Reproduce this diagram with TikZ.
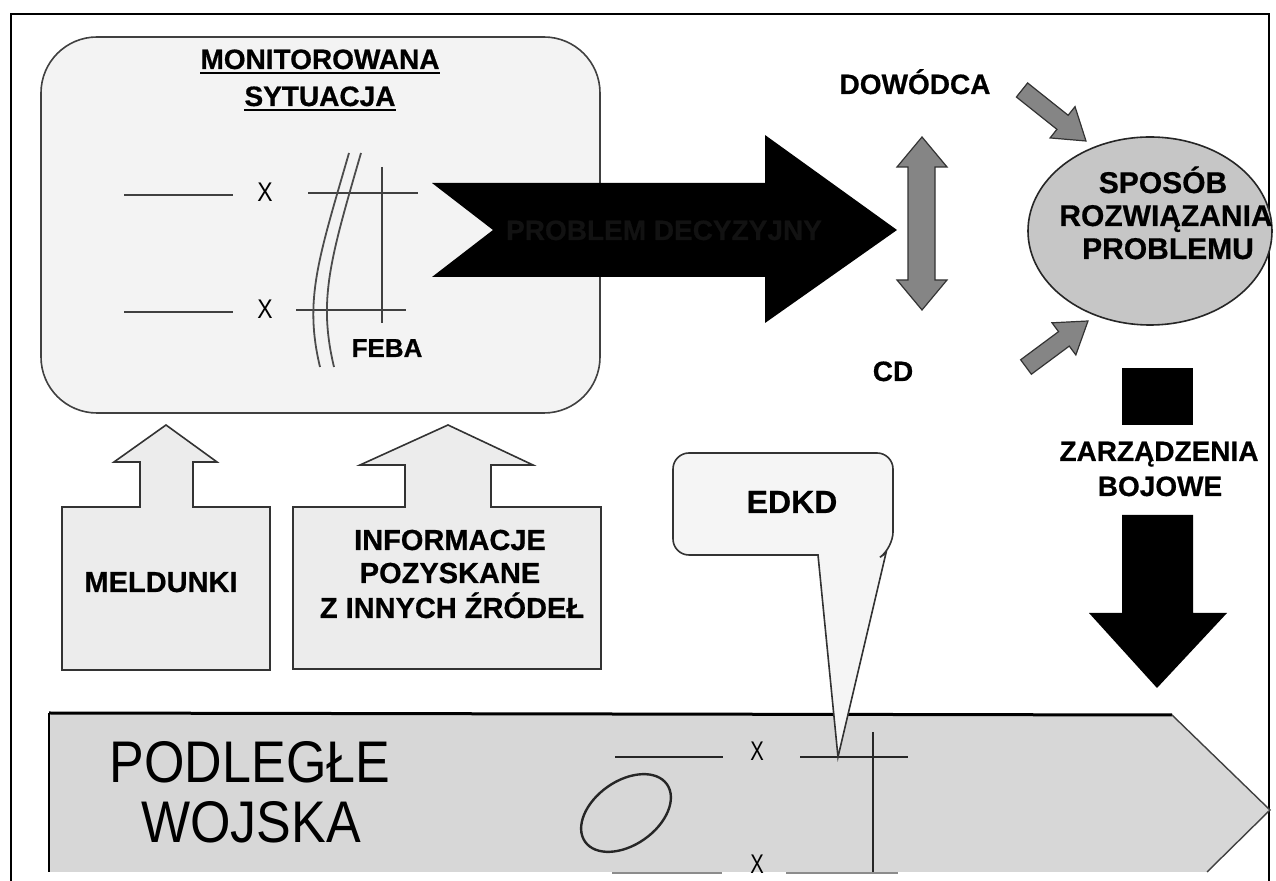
\documentclass[tikz,border=0pt]{standalone}
\usepackage{fontspec}
\usepackage{graphicx}
\setmainfont{Liberation Sans}[BoldFeatures={FakeBold=0.6}]
\usetikzlibrary{calc}

\definecolor{boxfill}{HTML}{F3F3F3}
\definecolor{srcfill}{HTML}{ECECEC}
\definecolor{bandfill}{HTML}{D7D7D7}
\definecolor{ellfill}{HTML}{C6C6C6}
\definecolor{arrgray}{HTML}{858585}
\definecolor{callfill}{HTML}{F5F5F5}

% block arrow from tail #1 to tip #2
\newcommand{\gblock}[2]{%
  \coordinate (gh) at ($(#2)!15pt!(#1)$);
  \filldraw[graya] ($(#1)!4.5pt!90:(#2)$) -- ($(gh)!4.5pt!90:(#2)$) -- ($(gh)!10pt!90:(#2)$)
    -- (#2) -- ($(gh)!10pt!-90:(#2)$) -- ($(gh)!4.5pt!-90:(#2)$) -- ($(#1)!4.5pt!-90:(#2)$) -- cycle;}

\tikzset{
  bt/.style={font=\bfseries\fontsize{14}{16}\selectfont, inner sep=0pt, anchor=base},
  bts/.style={font=\bfseries\fontsize{14.5}{16}\selectfont, inner sep=0pt, anchor=base},
  ellt/.style={font=\bfseries\fontsize{15}{17}\selectfont, inner sep=0pt, anchor=base},
  bigt/.style={font=\fontsize{26}{30}\selectfont, inner sep=0pt, anchor=base},
  xm/.style={font=\fontsize{13.5}{15}\selectfont, inner sep=0pt, anchor=base},
  lineg/.style={draw=black!75, line width=0.7pt},
  lineb/.style={draw=black!85, line width=1pt},
  graya/.style={fill=arrgray, draw=black!80, line width=0.6pt},
  srcbox/.style={fill=srcfill, draw=black!80, line width=0.8pt},
}

\begin{document}
\begin{tikzpicture}[x=0.5pt,y=-0.5pt]
\useasboundingbox (0,0) rectangle (1276,881);
\fill[white] (0,0) rectangle (1276,881);

% outer frame
\draw[line width=0.9pt] (11,895) -- (11,14) -- (1269,14) -- (1269,895);

% monitored situation panel
\draw[draw=black!75, line width=0.8pt, fill=boxfill, rounded corners=28pt] (41,37) rectangle (600,413);
\node[bt] (mon1) at (320,69) {MONITOROWANA};
\node[bt] (mon2) at (320,106) {SYTUACJA};
\draw[line width=1.3pt] ([yshift=-2pt]mon1.base west) -- ([yshift=-2pt]mon1.base east);
\draw[line width=1.3pt] ([yshift=-2pt]mon2.base west) -- ([yshift=-2pt]mon2.base east);

\draw[lineg] (124,195) -- (233,195);
\node[xm] (x1) at (265,202) {\scalebox{0.85}[1]{X}};
\draw[lineg] (308,193) -- (418,193);
\draw[lineg] (382,167) -- (382,323);
\draw[lineg] (124,312) -- (233,312);
\node[xm] (x2) at (265,319) {\scalebox{0.85}[1]{X}};
\draw[lineg] (296,310) -- (406,310);
\draw[draw=black!70, line width=0.9pt] (349,153) .. controls (318,260) and (304,300) .. (320,367);
\draw[draw=black!70, line width=0.9pt] (361,153) .. controls (330,260) and (318,300) .. (334,367);
\node[bt, font=\bfseries\fontsize{13}{15}\selectfont] (feba) at (387,357) {FEBA};

% decision problem arrow
\fill[black] (432,183) -- (765,183) -- (765,135) -- (897,230) -- (765,323)
  -- (765,277) -- (432,277) -- (493,230) -- cycle;
\node[bt, text=black!93] (prob) at (664,240) {PROBLEM DECYZYJNY};

% commander / staff
\node[bt] (dow) at (915,94) {DOWÓDCA};
\node[bt] (cd) at (893,381) {CD};
\filldraw[graya] (922,137) -- (947,167) -- (935,167) -- (935,280) -- (947,280) -- (922,310)
  -- (897,280) -- (908,280) -- (908,167) -- (897,167) -- cycle;

% solution ellipse
\filldraw[fill=ellfill, draw=black!85, line width=0.8pt] (1150,231) ellipse [x radius=61pt, y radius=47pt];
\node[ellt] (sp1) at (1163,193) {SPOSÓB};
\node[ellt] (sp2) at (1166,226) {ROZWIĄZANIA};
\node[ellt] (sp3) at (1168,259) {PROBLEMU};

\coordinate (ua-t) at (1022,90);
\coordinate (ua-p) at (1086,141);
\coordinate (la-t) at (1026,367);
\coordinate (la-p) at (1088,321);
\gblock{ua-t}{ua-p}
\gblock{la-t}{la-p}

% combat orders
\fill[black] (1122,368) rectangle (1193,425);
\node[bt] (zar1) at (1159,461) {ZARZĄDZENIA};
\node[bt] (zar2) at (1160,496) {BOJOWE};
\fill[black] (1122,515) -- (1193,515) -- (1193,613) -- (1227,613) -- (1157,688)
  -- (1089,613) -- (1122,613) -- cycle;

% information sources
\filldraw[srcbox] (62,507) -- (140,507) -- (140,462) -- (114,462) -- (166,425) -- (217,462)
  -- (193,462) -- (193,507) -- (270,507) -- (270,670) -- (62,670) -- cycle;
\node[bts] (mel) at (161,592) {MELDUNKI};

\filldraw[srcbox] (293,507) -- (405,507) -- (405,465) -- (360,465) -- (448,425) -- (533,465)
  -- (491,465) -- (491,507) -- (601,507) -- (601,669) -- (293,669) -- cycle;
\node[bts] (inf1) at (450,550) {INFORMACJE};
\node[bts] (inf2) at (450,583) {POZYSKANE};
\node[bts] (inf3) at (452,618) {Z INNYCH ŹRÓDEŁ};

% subordinate troops band
\fill[bandfill] (49,713) -- (1172,715) -- (1270,810) -- (1207,872) -- (49,872) -- cycle;
\draw[line width=1.5pt] (49,713) -- (1172,715);
\draw[line width=0.7pt] (49,713) -- (49,872);
\draw[draw=black!75, line width=0.7pt] (1172,715) -- (1270,810) -- (1207,872);
\node[bigt] (pod1) at (250,783) {\scalebox{1}[1.13]{PODLEGŁE}};
\node[bigt] (pod2) at (251,843) {\scalebox{1}[1.13]{WOJSKA}};

\draw[lineb] (615,757) -- (723,757);
\node[xm] (x3) at (757,761) {\scalebox{0.75}[1]{X}};
\draw[lineb] (800,757) -- (908,757);
\draw[lineb] (873,732) -- (873,872);
\node[xm] (x4) at (757,874) {\scalebox{0.75}[1]{X}};
\draw[draw=black!45, line width=0.8pt] (612,873) -- (722,873);
\draw[draw=black!45, line width=0.8pt] (786,873) -- (898,873);
\coordinate (ell) at (626,813);
\draw[draw=black!85, line width=1.2pt, rotate around={35:(ell)}] (ell) ellipse [x radius=25pt, y radius=16pt];

% EDKD callout
\filldraw[fill=callfill, draw=black!80, line width=0.8pt]
  [rounded corners=8pt] (673,500) -- (673,453) -- (893,453) -- (893,548)
  [sharp corners] -- (886,553) -- (838,757) -- (818,555)
  [rounded corners=8pt] -- (673,555) -- cycle;
\node[bt, font=\bfseries\fontsize{16}{18}\selectfont] (edkd) at (792,513) {EDKD};
\end{tikzpicture}
\end{document}
